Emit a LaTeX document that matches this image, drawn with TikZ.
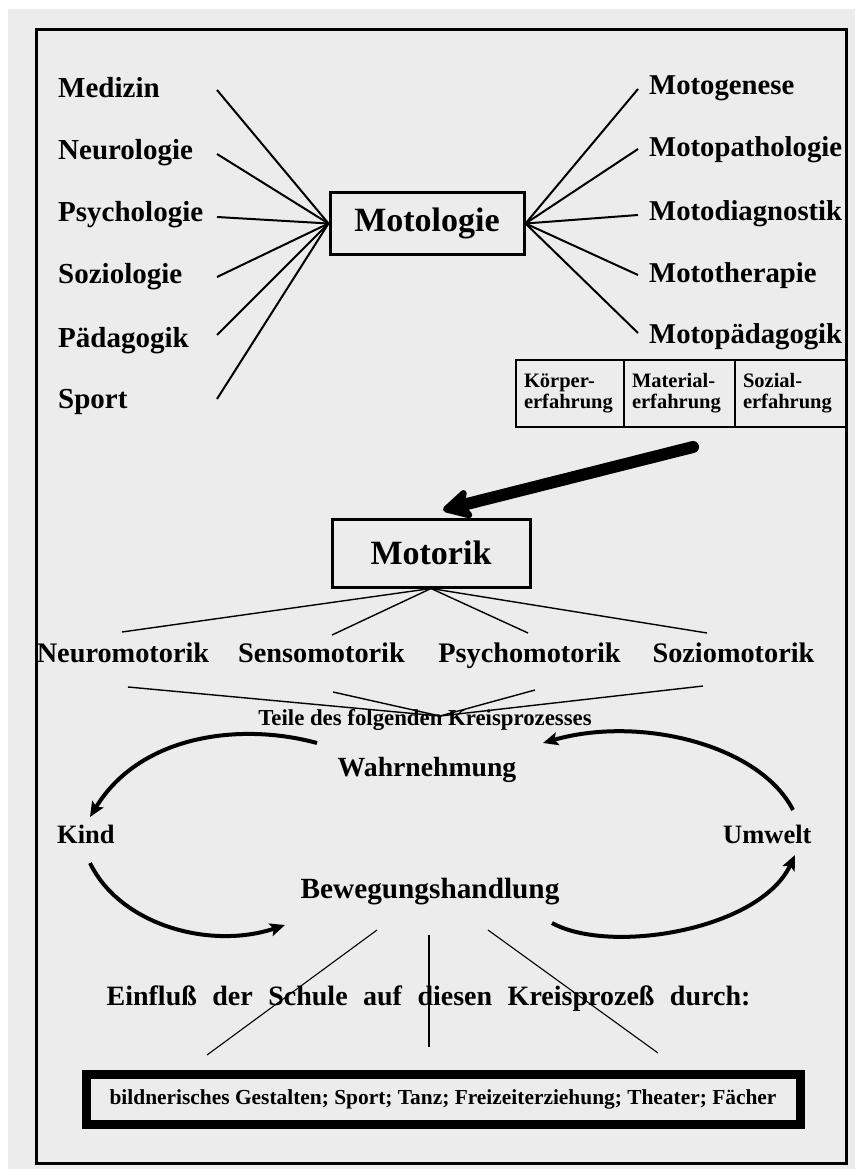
\documentclass[tikz,border=0pt]{standalone}
\usepackage{fontspec}
\setmainfont{Liberation Serif}
\usetikzlibrary{arrows.meta}
\definecolor{paper}{RGB}{236,236,236}
\newcommand{\wideWordSpace}{\spaceskip=15.5pt plus 2pt\relax}
\begin{document}
\begin{tikzpicture}[x=1pt,y=-1pt,
  lbl/.style={anchor=base west, inner sep=0pt, font=\fontsize{29}{32}\selectfont\bfseries},
  rlbl/.style={anchor=base west, inner sep=0pt, font=\fontsize{28.7}{32}\selectfont\bfseries},
  mlbl/.style={anchor=base, inner sep=0pt, font=\fontsize{28.3}{32}\selectfont\bfseries},
  bigbox/.style={draw, line width=3pt, inner sep=0pt, font=\fontsize{34}{38}\selectfont\bfseries},
  cell/.style={draw, line width=2.5pt, inner xsep=8pt, inner ysep=0pt, minimum height=67pt, align=left, font=\fontsize{20.5}{21}\selectfont\bfseries},
  fan/.style={line width=2pt},
  thinl/.style={line width=1.4pt},
  hair/.style={line width=1.1pt},
  curv/.style={line width=4pt, -{Stealth[length=15pt,width=13pt,inset=3pt]}},
  bigarrow/.style={line width=12pt, line cap=round, -{Stealth[length=34pt,width=36pt,inset=8pt,round]}}
]
\useasboundingbox (0,0) rectangle (855,1169);
\fill[white] (0,0) rectangle (855,1169);
\fill[paper] (8,9) rectangle (855,1169);
% outer frame
\draw[line width=3pt] (36,30) rectangle (846,1163);

% central Motologie box
\node[bigbox, minimum width=194pt, minimum height=61pt] (molo) at (427,223.5) {Motologie};

% left labels
\node[lbl] (med) at (58,98) {Medizin};
\node[lbl] (neu) at (58,160) {Neurologie};
\node[lbl] (psy) at (58,222) {Psychologie};
\node[lbl] (soz) at (58,283) {Soziologie};
\node[lbl] (paed) at (58,347) {Pädagogik};
\node[lbl] (spo) at (58,408) {Sport};
\coordinate (cMed) at (217,90);
\coordinate (cNeu) at (217,154);
\coordinate (cPsy) at (217,217);
\coordinate (cSoz) at (217,277);
\coordinate (cPae) at (217,335);
\coordinate (cSpo) at (217,399);
\foreach \c in {cMed,cNeu,cPsy,cSoz,cPae,cSpo} \draw[fan] (\c) -- (molo.west);

% right labels
\node[rlbl] (mgen) at (649,95) {Motogenese};
\node[rlbl] (mpat) at (649,157) {Motopathologie};
\node[rlbl] (mdia) at (649,220) {Motodiagnostik};
\node[rlbl] (mthe) at (649,282) {Mototherapie};
\node[rlbl] (mpae) at (649,343) {Motopädagogik};
\coordinate (cGen) at (638,89);
\coordinate (cPat) at (638,149);
\coordinate (cDia) at (638,215);
\coordinate (cThe) at (638,275);
\coordinate (cMpa) at (638,333);
\foreach \c in {cGen,cPat,cDia,cThe,cMpa} \draw[fan] (molo.east) -- (\c);

% table of experiences
\node[cell, text width=92pt] (koer) at (570,393.5) {Körper-\\erfahrung};
\node[cell, text width=95pt] (mat) at (679.5,393.5) {Material-\\erfahrung};
\node[cell, text width=95pt] (sozerf) at (790.5,393.5) {Sozial-\\erfahrung};

% Motorik box
\node[bigbox, minimum width=198pt, minimum height=68pt] (mot) at (431,553) {Motorik};
\coordinate (arrTail) at (693,447);
\coordinate (arrTip) at (443,510);
\draw[bigarrow] (arrTail) -- (arrTip);

% Motorik parts
\node[mlbl] (neuro) at (123,662) {Neuromotorik};
\node[mlbl] (senso) at (321.5,662) {Sensomotorik};
\node[mlbl] (psycho) at (529.5,662) {Psychomotorik};
\node[mlbl] (sozio) at (733.5,662) {Soziomotorik};
\coordinate (tN) at (122,632);
\coordinate (tS) at (332,635);
\coordinate (tP) at (528,633);
\coordinate (tZ) at (707,633);
\foreach \c in {tN,tS,tP,tZ} \draw[thinl] (mot.south) -- (\c);

\node[anchor=base, inner sep=0pt, font=\fontsize{22.8}{26}\selectfont\bfseries] (teile) at (425,725) {Teile des folgenden Kreisprozesses};
\coordinate (bN) at (128,687);
\coordinate (bS) at (333,692);
\coordinate (bP) at (535,690);
\coordinate (bZ) at (703,686);
\coordinate (conv) at (440,716);
\foreach \c in {bN,bS,bP,bZ} \draw[thinl] (\c) -- (conv);

% cycle
\node[anchor=base, inner sep=0pt, font=\fontsize{27.7}{30}\selectfont\bfseries] (wahr) at (427,776) {Wahrnehmung};
\node[anchor=base west, inner sep=0pt, font=\fontsize{26.5}{30}\selectfont\bfseries] (kind) at (57,843) {Kind};
\node[anchor=base west, inner sep=0pt, font=\fontsize{26.5}{30}\selectfont\bfseries] (umw) at (723,843) {Umwelt};
\node[anchor=base, inner sep=0pt, font=\fontsize{29.3}{32}\selectfont\bfseries] (beweg) at (430,898) {Bewegungshandlung};

\coordinate (wL) at (317,743);
\coordinate (kT) at (90,817);
\draw[curv] (wL) .. controls (240,722) and (140,735) .. (kT);
\coordinate (uT) at (793,810);
\coordinate (wR) at (543,743);
\draw[curv] (uT) .. controls (760,745) and (640,715) .. (wR);
\coordinate (kB) at (90,863);
\coordinate (bL) at (285,925);
\draw[curv] (kB) .. controls (120,925) and (210,950) .. (bL);
\coordinate (bR) at (552,923);
\coordinate (uB) at (795,855);
\draw[curv] (bR) .. controls (610,955) and (760,930) .. (uB);

% school influence
\node[anchor=base, inner sep=0pt, font=\fontsize{28}{30}\selectfont\bfseries\wideWordSpace] (einf) at (428.5,1005) {Einfluß der Schule auf diesen Kreisprozeß durch:};
\coordinate (h1) at (377,930);
\coordinate (e1) at (207,1055);
\coordinate (h2) at (429,935);
\coordinate (e2) at (429,1047);
\coordinate (h3) at (488,930);
\coordinate (e3) at (658,1053);
\draw[hair] (h1) -- (e1);
\draw[hair] (h2) -- (e2);
\draw[hair] (h3) -- (e3);

\node[draw, line width=9pt, minimum width=714pt, minimum height=50pt, inner sep=0pt, font=\fontsize{21.4}{24}\selectfont\bfseries] (faecher) at (443,1099) {bildnerisches Gestalten; Sport; Tanz; Freizeiterziehung; Theater; Fächer};
\end{tikzpicture}
\end{document}
